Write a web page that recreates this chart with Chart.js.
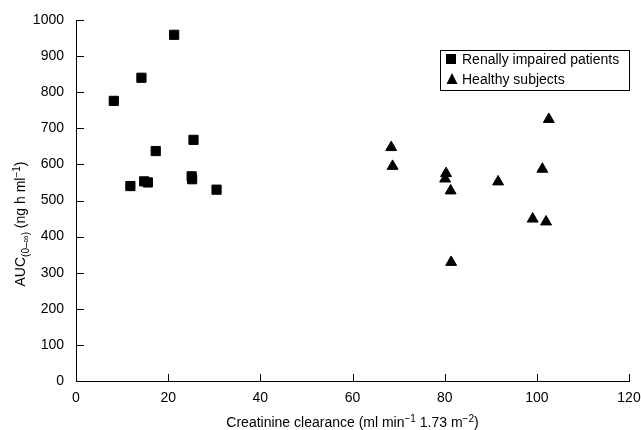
<!DOCTYPE html>
<html>
<head>
<meta charset="utf-8">
<script src="https://cdn.jsdelivr.net/npm/chart.js@4/dist/chart.umd.min.js"></script>
<style>
  body { margin: 0; background: #fff; }
  #wrap { width: 641px; height: 430px; }
</style>
</head>
<body>
<div id="wrap"><canvas id="chart" width="641" height="430"></canvas></div>
<script>
// Renally impaired patients: creatinine clearance vs AUC
const renalClearance = [21.3, 14.2, 8.2, 25.5, 17.3, 11.8, 14.8, 15.6, 25.1, 25.2, 30.5];
const renalAUC = [959, 840, 776, 668, 637, 540, 553, 550, 567, 559, 530];

// Healthy subjects
const healthyClearance = [102.6, 68.4, 68.7, 80.3, 80.1, 81.3, 91.6, 101.2, 99.1, 102.0, 81.4];
const healthyAUC = [725, 647, 595, 575, 560, 527, 552, 587, 449, 441, 329];

const seriesNames = ['Renally impaired patients', 'Healthy subjects'];
const FONT = '"Liberation Sans", Arial, sans-serif';

const toPoints = (xs, ys) => xs.map((v, i) => ({ x: v, y: ys[i] }));

// draw text made of parts, some raised or lowered (super/subscripts)
function drawParts(ctx, parts, cx, cy) {
    let total = 0;
    parts.forEach(p => {
        ctx.font = p.size + 'px ' + FONT;
        p.w = ctx.measureText(p.t).width;
        total += p.w;
    });
    let pos = cx - total / 2;
    ctx.textAlign = 'left';
    ctx.textBaseline = 'alphabetic';
    parts.forEach(p => {
        ctx.font = p.size + 'px ' + FONT;
        ctx.fillText(p.t, pos, cy + (p.dy || 0));
        pos += p.w;
    });
}

const customDraw = {
    id: 'customDraw',
    afterDraw(chart) {
        const { ctx, chartArea: a, scales: { x, y } } = chart;
        ctx.save();
        ctx.strokeStyle = '#000';
        ctx.fillStyle = '#000';
        ctx.lineWidth = 1;

        // inward tick marks
        ctx.beginPath();
        y.ticks.forEach(t => {
            const py = Math.round(y.getPixelForValue(t.value)) + 0.5;
            ctx.moveTo(a.left, py);
            ctx.lineTo(a.left + 8, py);
        });
        x.ticks.forEach(t => {
            const px = Math.round(x.getPixelForValue(t.value)) + 0.5;
            ctx.moveTo(px, a.bottom);
            ctx.lineTo(px, a.bottom - 7);
        });
        ctx.stroke();

        // x axis title
        drawParts(ctx, [
            { t: 'Creatinine clearance (ml min', size: 14 },
            { t: '\u22121', size: 10, dy: -5 },
            { t: ' 1.73 m', size: 14 },
            { t: '\u22122', size: 10, dy: -5 },
            { t: ')', size: 14 }
        ], (a.left + a.right) / 2, 427);

        // y axis title (rotated)
        ctx.save();
        ctx.translate(25, 224);
        ctx.rotate(-Math.PI / 2);
        drawParts(ctx, [
            { t: 'AUC', size: 14 },
            { t: '(0\u2013\u221e)', size: 10, dy: 4 },
            { t: ' (ng h ml', size: 14 },
            { t: '\u22121', size: 10, dy: -5 },
            { t: ')', size: 14 }
        ], 0, 0);
        ctx.restore();

        // legend box inside plot
        const lx = 440.5, ly = 50.5, lw = 189, lh = 40;
        ctx.fillStyle = '#fff';
        ctx.fillRect(lx, ly, lw, lh);
        ctx.strokeRect(lx, ly, lw, lh);
        ctx.fillStyle = '#000';
        ctx.fillRect(446, 54, 10, 10);
        ctx.beginPath();
        ctx.moveTo(452, 73);
        ctx.lineTo(457.5, 84);
        ctx.lineTo(446.5, 84);
        ctx.closePath();
        ctx.fill();
        ctx.font = '14px ' + FONT;
        ctx.textAlign = 'left';
        ctx.textBaseline = 'middle';
        ctx.fillText(seriesNames[0], 462, 60);
        ctx.fillText(seriesNames[1], 462, 80);
        ctx.restore();
    }
};

new Chart(document.getElementById('chart'), {
    type: 'scatter',
    data: {
        datasets: [
            {
                label: seriesNames[0],
                data: toPoints(renalClearance, renalAUC),
                pointStyle: 'rect',
                pointRadius: 6.5,
                borderWidth: 1,
                backgroundColor: '#000',
                borderColor: '#000'
            },
            {
                label: seriesNames[1],
                data: toPoints(healthyClearance, healthyAUC),
                pointStyle: 'triangle',
                pointRadius: 6.3,
                borderWidth: 1,
                backgroundColor: '#000',
                borderColor: '#000'
            }
        ]
    },
    options: {
        responsive: false,
        animation: false,
        layout: { padding: { top: 20, right: 12, left: 0, bottom: 0 } },
        plugins: {
            legend: { display: false },
            tooltip: { enabled: false }
        },
        scales: {
            x: {
                type: 'linear',
                min: 0,
                max: 120,
                ticks: { stepSize: 20, color: '#000', padding: 9, font: { family: FONT, size: 14 },
                         callback: v => String(v) },
                grid: { display: false, drawTicks: false },
                border: { display: true, color: '#000', width: 1 },
                afterFit: s => { s.height = 49; s.paddingLeft = 0; s.paddingRight = 0; }
            },
            y: {
                type: 'linear',
                min: 0,
                max: 1000,
                ticks: { stepSize: 100, color: '#000', padding: 12, font: { family: FONT, size: 14 },
                         callback: v => String(v) },
                grid: { display: false, drawTicks: false },
                border: { display: true, color: '#000', width: 1 },
                afterFit: s => { s.width = 76; s.paddingTop = 0; s.paddingBottom = 0; }
            }
        }
    },
    plugins: [customDraw]
});
</script>
</body>
</html>
